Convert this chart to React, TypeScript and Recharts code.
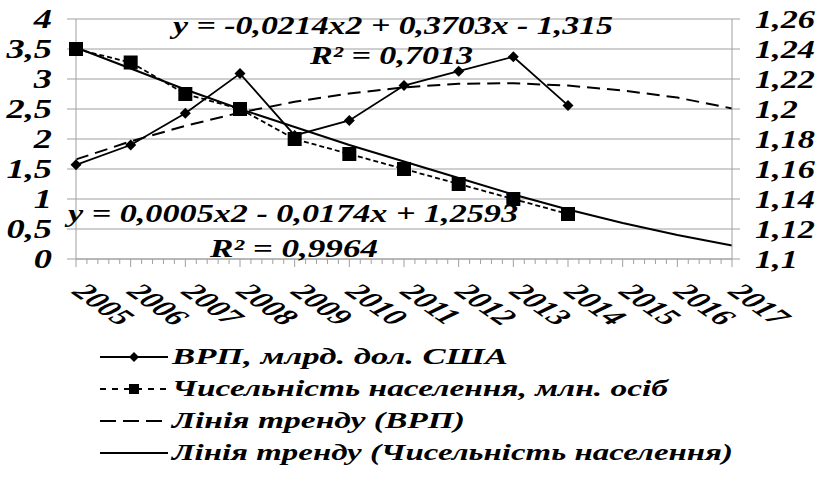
import { LineChart, Line, XAxis, YAxis, CartesianGrid } from 'recharts';

const years = ['2005', '2006', '2007', '2008', '2009', '2010', '2011', '2012', '2013', '2014', '2015', '2016', '2017'];
const gdp = [1.57, 1.9, 2.43, 3.09, 2.06, 2.31, 2.89, 3.13, 3.37, 2.56, null, null, null];
const population = [1.24, 1.231, 1.21, 1.2, 1.18, 1.17, 1.16, 1.15, 1.14, 1.13, null, null, null];
const gdpTrend = [1.66, 1.96, 2.22, 2.44, 2.62, 2.76, 2.86, 2.92, 2.93, 2.89, 2.81, 2.69, 2.51];
const populationTrend = [1.241, 1.227, 1.213, 1.2, 1.188, 1.176, 1.165, 1.154, 1.143, 1.133, 1.124, 1.116, 1.109];

const leftTicks = [0, 0.5, 1, 1.5, 2, 2.5, 3, 3.5, 4];
const leftTickLabels = ['0', '0,5', '1', '1,5', '2', '2,5', '3', '3,5', '4'];
const rightTicks = [1.1, 1.12, 1.14, 1.16, 1.18, 1.2, 1.22, 1.24, 1.26];
const rightTickLabels = ['1,1', '1,12', '1,14', '1,16', '1,18', '1,2', '1,22', '1,24', '1,26'];

const legendLabels = [
  'ВРП, млрд. дол. США',
  'Чисельність населення,  млн. осіб',
  'Лінія тренду (ВРП)',
  'Лінія тренду (Чисельність населення)',
];

const data = years.map((year, i) => ({
  year,
  gdp: gdp[i],
  population: population[i],
  gdpTrend: gdpTrend[i],
  populationTrend: populationTrend[i],
}));

const FONT = '"Liberation Serif", "Times New Roman", serif';
const GRID = '#a0a0a0';
const STEP = (732 - 76) / 12;

const textStyle = {
  fontFamily: FONT,
  fontWeight: 700,
  fontStyle: 'italic',
  fill: '#000',
};

const labelFor = (ticks: number[], labels: string[], v: number) => {
  const i = ticks.findIndex((t) => Math.abs(t - v) < 1e-6);
  return i >= 0 ? labels[i] : String(v);
};

function LeftTick(props: any) {
  const { x, y, payload } = props;
  return (
    <text
      transform={`translate(${x - 15},${y + 9}) scale(1.35,1)`}
      textAnchor="end"
      style={{ ...textStyle, fontSize: 27 }}
    >
      {labelFor(leftTicks, leftTickLabels, payload.value)}
    </text>
  );
}

function RightTick(props: any) {
  const { x, y, payload } = props;
  return (
    <text
      transform={`translate(${x + 15},${y + 9}) scale(1.37,1)`}
      textAnchor="start"
      style={{ ...textStyle, fontSize: 25 }}
    >
      {labelFor(rightTicks, rightTickLabels, payload.value)}
    </text>
  );
}

function XTick(props: any) {
  const { x, y, payload } = props;
  const idx = years.indexOf(payload.value);
  const axisY = y - 8;
  const minor = [];
  if (idx < years.length - 1) {
    for (let k = 1; k < 5; k++) {
      const mx = x + (k * STEP) / 5;
      minor.push(<line key={k} x1={mx} x2={mx} y1={axisY} y2={axisY + 5} stroke={GRID} />);
    }
  }
  return (
    <g>
      {minor}
      <text
        transform={`translate(${x - 5},${y + 26}) scale(1.43,1) rotate(45)`}
        textAnchor="start"
        style={{ ...textStyle, fontSize: 24 }}
      >
        {payload.value}
      </text>
    </g>
  );
}

function Diamond(props: any) {
  const { cx, cy, value, index } = props;
  if (value == null || cx == null || cy == null) return <g key={`d${index}`} />;
  const r = 5.5;
  return (
    <polygon
      key={`d${index}`}
      points={`${cx},${cy - r} ${cx + r},${cy} ${cx},${cy + r} ${cx - r},${cy}`}
      fill="#000"
    />
  );
}

function Square(props: any) {
  const { cx, cy, value, index } = props;
  if (value == null || cx == null || cy == null) return <g key={`s${index}`} />;
  const s = 14;
  return <rect key={`s${index}`} x={cx - s / 2} y={cy - s / 2} width={s} height={s} fill="#000" />;
}

const equations = [
  { text: 'y = -0,0214x2 + 0,3703x - 1,315', x: 173, y: 34, w: 440 },
  { text: 'R² = 0,7013', x: 310, y: 64, w: 163 },
  { text: 'y = 0,0005x2 - 0,0174x + 1,2593', x: 68, y: 222, w: 450 },
  { text: 'R² = 0,9964', x: 210, y: 257, w: 168 },
];

const legendWidths = [336, 496, 293, 561];
const legendRows = [357, 389, 421, 453];

function Overlay() {
  return (
    <svg
      width={822}
      height={479}
      style={{ position: 'absolute', left: 0, top: 0, pointerEvents: 'none' }}
    >
      {equations.map((e) => (
        <text
          key={e.text}
          x={e.x}
          y={e.y}
          textLength={e.w}
          lengthAdjust="spacingAndGlyphs"
          style={{ ...textStyle, fontSize: 25 }}
        >
          {e.text}
        </text>
      ))}
      {legendLabels.map((label, i) => {
        const cy = legendRows[i];
        let icon;
        if (i === 0) {
          icon = (
            <g>
              <line x1={100} x2={168} y1={cy} y2={cy} stroke="#000" strokeWidth={1.8} />
              <polygon points={`134,${cy - 5} 139,${cy} 134,${cy + 5} 129,${cy}`} fill="#000" />
            </g>
          );
        } else if (i === 1) {
          icon = (
            <g>
              <line x1={100} x2={168} y1={cy} y2={cy} stroke="#000" strokeWidth={1.8} strokeDasharray="6 6" />
              <rect x={129} y={cy - 5} width={10} height={10} fill="#000" />
            </g>
          );
        } else if (i === 2) {
          icon = <line x1={100} x2={168} y1={cy} y2={cy} stroke="#000" strokeWidth={2} strokeDasharray="16 7" />;
        } else {
          icon = <line x1={100} x2={168} y1={cy} y2={cy} stroke="#000" strokeWidth={2} />;
        }
        return (
          <g key={label}>
            {icon}
            <text
              x={172}
              y={cy + 7}
              textLength={legendWidths[i]}
              lengthAdjust="spacingAndGlyphs"
              style={{ ...textStyle, fontSize: 23 }}
            >
              {label}
            </text>
          </g>
        );
      })}
    </svg>
  );
}

export default function App() {
  return (
    <div style={{ position: 'absolute', left: 0, top: 0, width: 822, height: 479, background: '#fff' }}>
      <LineChart width={822} height={479} data={data} margin={{ top: 19, right: 0, bottom: 0, left: 0 }}>
        <CartesianGrid vertical={false} stroke={GRID} strokeWidth={1.2} />
        <XAxis
          dataKey="year"
          height={220}
          interval={0}
          tickSize={8}
          tickMargin={0}
          stroke={GRID}
          tickLine={{ stroke: GRID }}
          tick={<XTick />}
        />
        <YAxis
          domain={[0, 4]}
          ticks={leftTicks}
          width={76}
          tickSize={9}
          tickMargin={0}
          stroke={GRID}
          tickLine={{ stroke: GRID }}
          tick={<LeftTick />}
        />
        <YAxis
          yAxisId="right"
          orientation="right"
          domain={[1.1, 1.26]}
          ticks={rightTicks}
          width={90}
          tickSize={8}
          tickMargin={0}
          stroke={GRID}
          tickLine={{ stroke: GRID }}
          tick={<RightTick />}
        />
        <Line
          dataKey="gdpTrend"
          stroke="#000"
          strokeWidth={2}
          strokeDasharray="13 7"
          dot={false}
          isAnimationActive={false}
        />
        <Line
          yAxisId="right"
          dataKey="populationTrend"
          stroke="#000"
          strokeWidth={2}
          dot={false}
          isAnimationActive={false}
        />
        <Line
          yAxisId="right"
          dataKey="population"
          stroke="#000"
          strokeWidth={1.8}
          strokeDasharray="5 3"
          dot={<Square />}
          activeDot={false}
          isAnimationActive={false}
        />
        <Line
          dataKey="gdp"
          stroke="#000"
          strokeWidth={1.8}
          dot={<Diamond />}
          activeDot={false}
          isAnimationActive={false}
        />
      </LineChart>
      <Overlay />
    </div>
  );
}
